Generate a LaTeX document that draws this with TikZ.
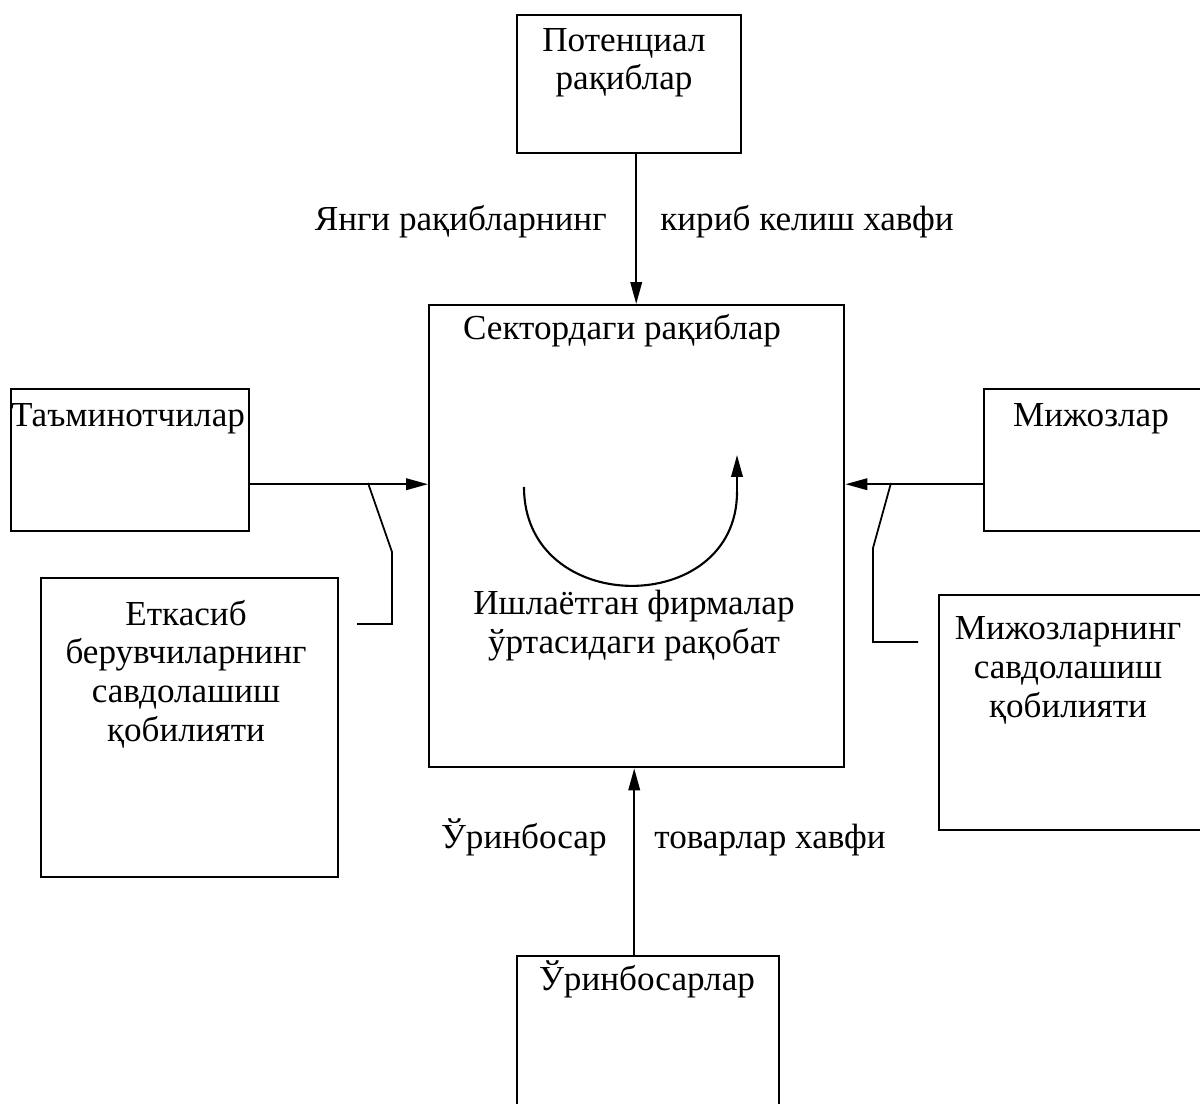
\documentclass[tikz,border=0pt]{standalone}
\usepackage{fontspec}
\setmainfont{Liberation Serif}
\usetikzlibrary{positioning,arrows.meta,calc}

\begin{document}
\begin{tikzpicture}[
  x=0.02cm, y=-0.02cm,
  box/.style={rectangle, draw, line width=1.4pt, inner sep=0pt},
  thinbox/.style={rectangle, draw, line width=1pt, inner sep=0pt},
  txt/.style={font=\fontsize{20}{22}\selectfont, inner sep=0pt, align=center},
  arrow/.style={-{Triangle[length=4.4mm, width=2.3mm]}, line width=1.2pt},
  callout/.style={line width=1pt},
]
\useasboundingbox (0,0) rectangle (1200,1104);

% === FORCES ===
\node[box, anchor=north west, minimum width=4.48cm, minimum height=2.76cm] (pot) at (516,14) {};
\node[box, anchor=north west, minimum width=8.30cm, minimum height=9.24cm] (sect) at (428,304) {};
\node[box, anchor=north west, minimum width=4.76cm, minimum height=2.84cm] (supp) at (10,388) {};
\node[box, anchor=north west, minimum width=4.50cm, minimum height=2.84cm] (cli) at (983,388) {};
\node[thinbox, anchor=north west, minimum width=5.94cm, minimum height=5.98cm] (suppbar) at (40,577) {};
\node[thinbox, anchor=north west, minimum width=5.40cm, minimum height=4.70cm] (clibar) at (938,594) {};
\node[box, anchor=north west, minimum width=5.24cm, minimum height=3.20cm] (subst) at (516,955) {};

% texts (multi-line: base is the last line)
\node[txt, anchor=base] (potT) at (624,90) {Потенциал\\рақиблар};
\node[txt, anchor=base] (sectT) at (622,340) {Сектордаги рақиблар};
\node[txt, anchor=base] (suppT) at (128,427) {Таъминотчилар};
\node[txt, anchor=base] (cliT) at (1091,427) {Мижозлар};
\node[txt, anchor=base] (suppbarT) at (186,741) {Еткасиб\\берувчиларнинг\\савдолашиш\\қобилияти};
\node[txt, anchor=base] (clibarT) at (1068,717) {Мижозларнинг\\савдолашиш\\қобилияти};
\node[txt, anchor=base] (rivT) at (634,653) {Ишлаётган фирмалар\\ўртасидаги рақобат};
\node[txt, anchor=base] (substT) at (647,990) {Ўринбосарлар};

\node[txt, anchor=base east] (newL) at (607,231) {Янги рақибларнинг};
\node[txt, anchor=base west] (newR) at (660,231) {кириб келиш хавфи};
\node[txt, anchor=base east] (subL) at (607,848) {Ўринбосар};
\node[txt, anchor=base west] (subR) at (654,848) {товарлар хавфи};

% arrows into the sector
\draw[arrow] ([xshift=0.14cm]pot.south) -- ([xshift=0.14cm]pot.south |- sect.north);
\draw[arrow] ([xshift=-0.28cm]subst.north) -- ([xshift=-0.28cm]subst.north |- sect.south);
\draw[arrow] ([yshift=-0.48cm]supp.east) -- ([yshift=-0.48cm]supp.east -| sect.west);
\draw[arrow] ([yshift=-0.48cm]cli.west) -- ([yshift=-0.48cm]cli.west -| sect.east);

% callouts
\coordinate (lc1) at (368,483);
\coordinate (lc2) at (392,552);
\coordinate (lc3) at (392,624);
\coordinate (lc4) at (357,624);
\draw[callout] (lc1) -- (lc2) -- (lc3) -- (lc4);
\coordinate (rc1) at (891,483);
\coordinate (rc2) at (873,548);
\coordinate (rc3) at (873,642);
\coordinate (rc4) at (918,642);
\draw[callout] (rc1) -- (rc2) -- (rc3) -- (rc4);

% rivalry loop
\coordinate (r1) at (524,487);
\coordinate (r2) at (737,492);
\coordinate (r3) at (737,455);
\draw[line width=1.2pt] (r1) .. controls (524,618) and (737,618) .. (r2);
\draw[arrow] (r2) -- (r3);
\end{tikzpicture}
\end{document}
